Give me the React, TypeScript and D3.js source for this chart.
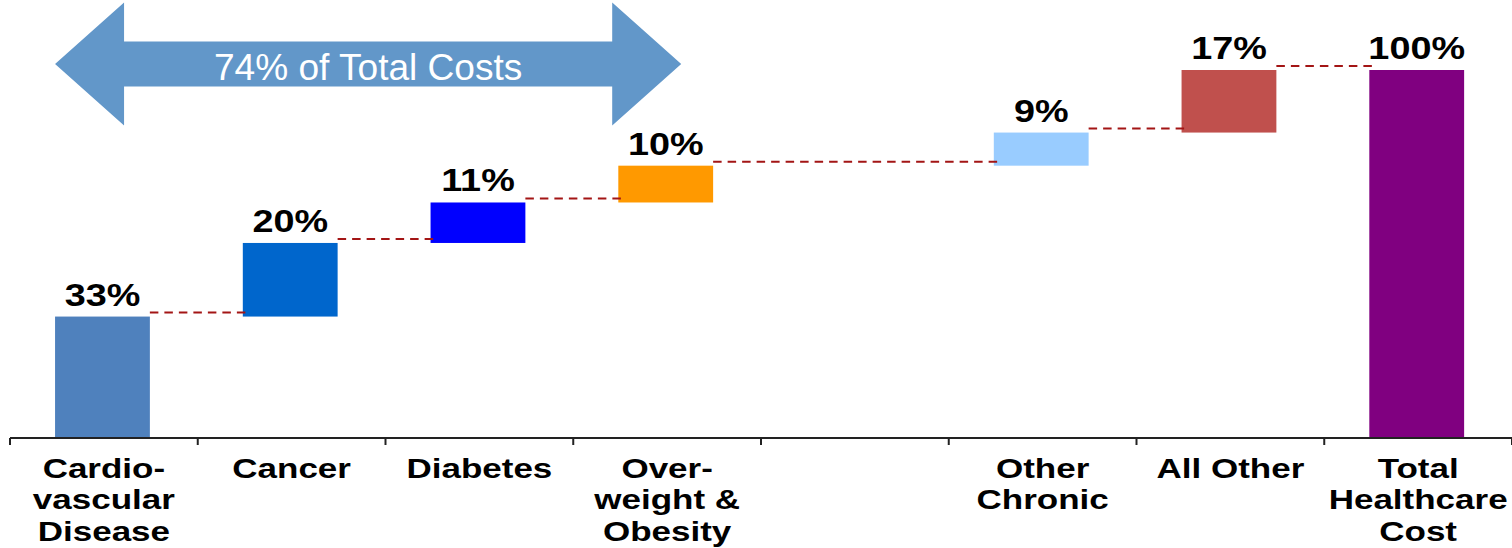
import React from "react";
import * as d3 from "d3";

// Waterfall of healthcare cost shares by condition
const categories = [
  "cardio",
  "cancer",
  "diabetes",
  "obesity",
  "gap",
  "otherChronic",
  "allOther",
  "total",
];
const categoryLines: string[][] = [
  ["Cardio-", "vascular", "Disease"],
  ["Cancer"],
  ["Diabetes"],
  ["Over-", "weight &", "Obesity"],
  [],
  ["Other", "Chronic"],
  ["All Other"],
  ["Total", "Healthcare", "Cost"],
];
// percentage share of total cost (null = empty slot / total column)
const shares: (number | null)[] = [33, 20, 11, 10, null, 9, 17, null];
const barColors = [
  "#4F81BD",
  "#0066CC",
  "#0000FF",
  "#FF9900",
  "none",
  "#99CCFF",
  "#C0504D",
  "#800080",
];
// categories grouped under the double arrow
const highlighted = ["cardio", "cancer", "diabetes", "obesity"];

const W = 1512;
const H = 548;
const FONT = "'Liberation Sans', Arial, Helvetica, sans-serif";

export default function App() {
  const x = d3.scaleBand<string>().domain(categories).range([10, 1512]).paddingInner(0).paddingOuter(0);
  const step = x.step();
  const y = d3.scaleLinear().domain([0, 100]).range([438, 70]);
  const barOff = step * 0.24;
  const barW = step * 0.505;

  const total = d3.sum(shares.map((s) => s ?? 0));

  // build waterfall segments
  type Seg = { key: string; i: number; lo: number; hi: number; label: number };
  const segs: Seg[] = [];
  let cum = 0;
  categories.forEach((c, i) => {
    if (c === "total") {
      segs.push({ key: c, i, lo: 0, hi: total, label: total });
    } else if (shares[i] != null) {
      const v = shares[i] as number;
      segs.push({ key: c, i, lo: cum, hi: cum + v, label: v });
      cum += v;
    }
  });

  const connectors = segs.slice(1).map((s, k) => {
    const prev = segs[k];
    return {
      x1: (x(prev.key) as number) + barOff + barW,
      x2: (x(s.key) as number) + barOff + 6,
      yv: prev.hi,
    };
  });

  const arrowShare = d3.sum(highlighted.map((c) => shares[categories.indexOf(c)] ?? 0));
  const aL = (x(highlighted[0]) as number) + barOff;
  const aR = (x(highlighted[highlighted.length - 1]) as number) + step * 0.575;
  const aMid = 64;
  const headLen = 69;
  const headHalf = 61.5;
  const shaftHalf = 22.5;
  const arrowPath = [
    [aL, aMid],
    [aL + headLen, aMid - headHalf],
    [aL + headLen, aMid - shaftHalf],
    [aR - headLen, aMid - shaftHalf],
    [aR - headLen, aMid - headHalf],
    [aR, aMid],
    [aR - headLen, aMid + headHalf],
    [aR - headLen, aMid + shaftHalf],
    [aL + headLen, aMid + shaftHalf],
    [aL + headLen, aMid + headHalf],
  ];
  const line = d3.line();

  const ticks = [...categories.map((c) => x(c) as number), x.range()[1]];

  return (
    <svg
      width={W}
      height={H}
      style={{ position: "absolute", left: 0, top: 0, background: "#fff" }}
      fontFamily={FONT}
    >
      {/* bars */}
      {segs.map((s) => (
        <rect
          key={s.key}
          x={(x(s.key) as number) + barOff}
          width={barW}
          y={y(s.hi)}
          height={y(s.lo) - y(s.hi)}
          fill={barColors[s.i]}
        />
      ))}

      {/* dashed connectors */}
      {connectors.map((c, k) => (
        <line
          key={k}
          x1={c.x1}
          x2={c.x2}
          y1={y(c.yv) - 4}
          y2={y(c.yv) - 4}
          stroke="#A31515"
          strokeWidth={2}
          strokeDasharray="8.5,6"
        />
      ))}

      {/* value labels */}
      {segs.map((s) => {
        const cx = (x(s.key) as number) + barOff + barW / 2;
        return (
          <text
            key={"v" + s.key}
            transform={`translate(${cx},${y(s.hi) - 11}) scale(1.22,1)`}
            textAnchor="middle"
            fontSize={31}
            fontWeight="bold"
            fill="#000"
          >
            {`${s.label}%`}
          </text>
        );
      })}

      {/* axis */}
      <line x1={x.range()[0]} x2={x.range()[1]} y1={438} y2={438} stroke="#222" strokeWidth={2} />
      {ticks.map((t, k) => (
        <line key={"t" + k} x1={t} x2={t} y1={438} y2={445} stroke="#222" strokeWidth={2} />
      ))}

      {/* category labels */}
      {categories.map((c, i) => {
        const cx = (x(c) as number) + step / 2;
        return (
          <text
            key={"c" + c}
            transform={`translate(${cx},478) scale(1.25,1)`}
            textAnchor="middle"
            fontSize={28}
            fontWeight="bold"
            fill="#000"
          >
            {categoryLines[i].map((ln, j) => (
              <tspan key={j} x={0} y={j * 31.5}>
                {ln}
              </tspan>
            ))}
          </text>
        );
      })}

      {/* double arrow annotation */}
      <path d={(line(arrowPath as [number, number][]) as string) + "Z"} fill="#6297C9" />
      <text
        transform={`translate(${(aL + aR) / 2},80) scale(1.03,1)`}
        textAnchor="middle"
        fontSize={36}
        fill="#fff"
      >
        {`${arrowShare}% of Total Costs`}
      </text>
    </svg>
  );
}
